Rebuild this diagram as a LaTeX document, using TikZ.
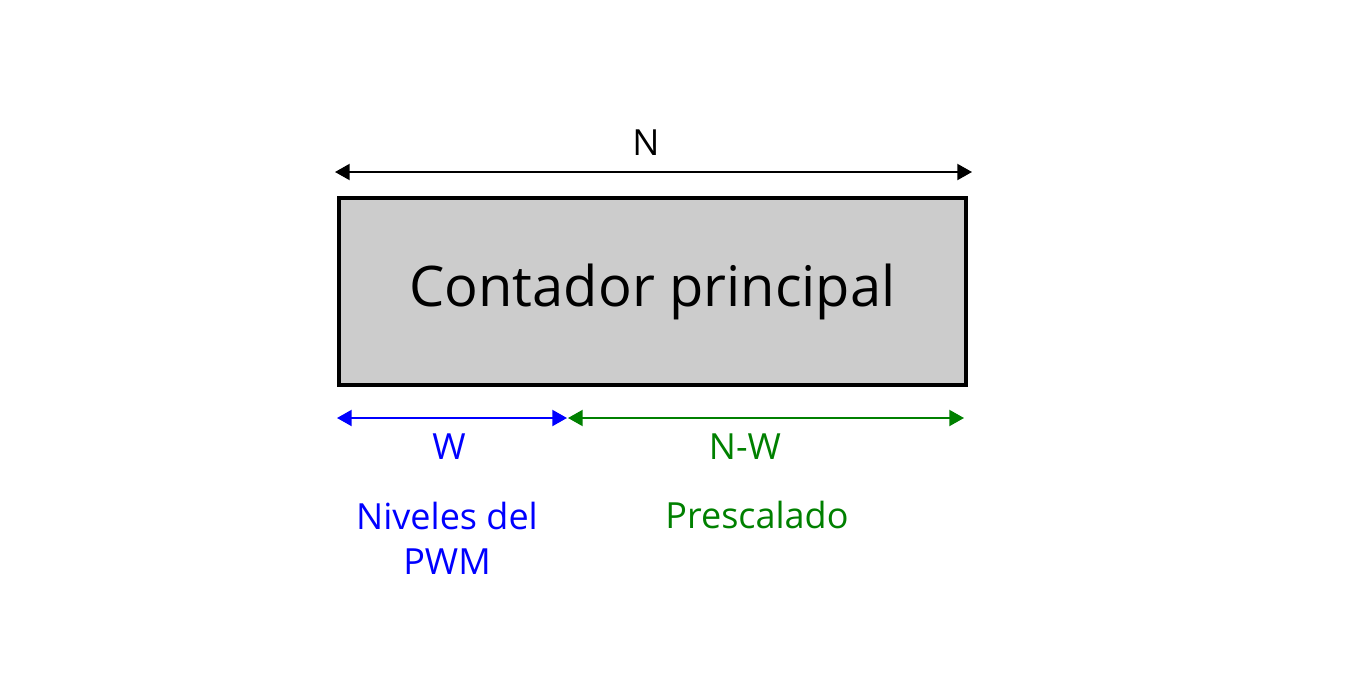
\documentclass[tikz,border=0pt]{standalone}
\usepackage{fontspec}
\setmainfont{Open Sans}
\usetikzlibrary{arrows.meta}
\definecolor{pwmblue}{RGB}{0,0,255}
\definecolor{preGreen}{RGB}{0,128,0}
\tikzset{
  dimarrow/.style={line width=1.5pt,{Triangle[length=11pt,width=12pt]}-{Triangle[length=11pt,width=12pt]}},
  lbl/.style={inner sep=0pt,font=\fontsize{27}{34}\selectfont,align=center}
}
\begin{document}
\begin{tikzpicture}[x=0.75pt,y=-0.75pt]
\useasboundingbox (0,0) rectangle (1347,675);
\node[draw=black,line width=3pt,fill={rgb,255:red,204;green,204;blue,204},minimum width=627*0.75pt,minimum height=187*0.75pt,inner sep=0pt,anchor=north west,font=\fontsize{42}{50}\selectfont] (box) at (337,196) {Contador principal};
\coordinate (tl) at (335,172);
\coordinate (tr) at (972,172);
\draw[dimarrow] (tl) -- (tr);
\node[lbl] (n) at (646,143) {N};
\coordinate (bl) at (337,418);
\coordinate (bm1) at (567,418);
\coordinate (bm2) at (568,418);
\coordinate (br) at (964,418);
\draw[dimarrow,pwmblue] (bl) -- (bm1);
\draw[dimarrow,preGreen] (bm2) -- (br);
\node[lbl,text=pwmblue] (w) at (449,447) {W};
\node[lbl,text=preGreen] (nw) at (745,447) {N-W};
\node[lbl,text=pwmblue] (niv) at (447,538) {Niveles del\\PWM};
\node[lbl,text=preGreen] (pre) at (757,515) {Prescalado};
\end{tikzpicture}
\end{document}
